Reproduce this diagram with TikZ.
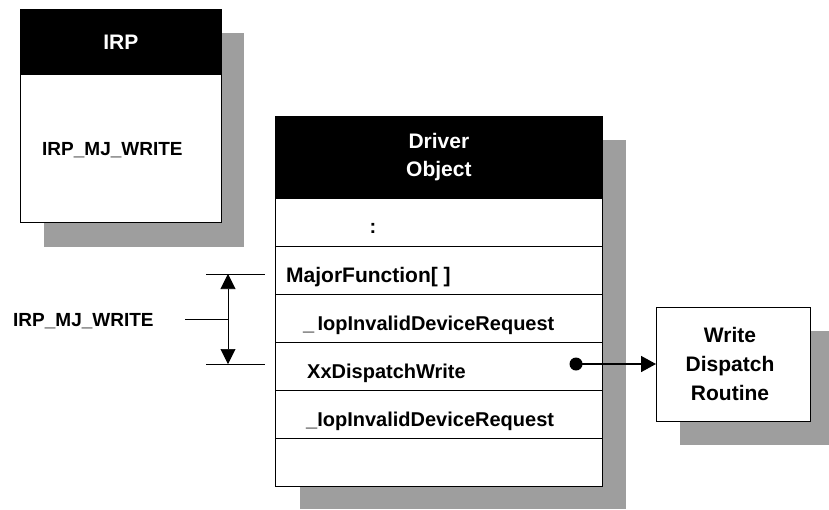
\documentclass[tikz,border=0pt]{standalone}
\usepackage{fontspec}
\setmainfont{Liberation Sans}
\usetikzlibrary{arrows.meta}
\begin{document}
\begin{tikzpicture}[x=1pt,y=-1pt,
  shadowfill/.style={fill=black!38},
  hdr/.style={draw=black,fill=black,text=white,line width=0.8pt,anchor=north west,align=center,
    font=\fontsize{21}{28}\selectfont\bfseries,inner sep=0pt},
  bodybox/.style={draw=black,fill=white,line width=0.8pt,anchor=north west,inner sep=0pt},
  rowbox/.style={draw=black,fill=white,line width=0.6pt,anchor=north west,inner sep=0pt,
    minimum width=327pt,minimum height=48pt},
  lbl/.style={font=\fontsize{20}{29}\selectfont\bfseries,inner sep=0pt,anchor=base west},
  ctr/.style={font=\fontsize{21}{29}\selectfont\bfseries,inner sep=0pt,align=center},
  thin/.style={line width=0.6pt}
]
\useasboundingbox (0,0) rectangle (829,509);
% shadows
\fill[shadowfill] (44,33) rectangle (244,247);
\fill[shadowfill] (300,140) rectangle (626,509);
\fill[shadowfill] (680,331) rectangle (829,445);
% IRP box
\node[hdr,minimum width=201pt,minimum height=65pt] (irph) at (20,9) {IRP};
\node[bodybox,minimum width=201pt,minimum height=148pt] (irpb) at (20,74) {};
\node[lbl,font=\fontsize{19}{29}\selectfont\bfseries] (irpt) at (42,155) {IRP\_MJ\_WRITE};
% Driver object
\node[hdr,minimum width=327pt,minimum height=82pt] (drvh) at (275,116) {Driver\\Object};
\node[rowbox] (r1) at (275,198) {};
\node[rowbox] (r2) at (275,246) {};
\node[rowbox] (r3) at (275,294) {};
\node[rowbox] (r4) at (275,342) {};
\node[rowbox] (r5) at (275,390) {};
\node[rowbox] (r6) at (275,438) {};
\node[lbl,anchor=base] (t1) at (373,233) {:};
\node[lbl,font=\fontsize{21}{29}\selectfont\bfseries] (t2) at (286,282) {MajorFunction[ ]};
\node[lbl] (t3) at (303,330) {\_\,IopInvalidDeviceRequest};
\node[lbl] (t4) at (307,378) {XxDispatchWrite};
\node[lbl] (t5) at (306,426) {\_IopInvalidDeviceRequest};
% Write dispatch routine
\node[bodybox,minimum width=154pt,minimum height=114pt] (wdr) at (656,307) {};
\node[ctr] (wdrt) at (730,364) {Write\\Dispatch\\Routine};
% dimension
\node[lbl,font=\fontsize{19}{29}\selectfont\bfseries] (lft) at (13,326) {IRP\_MJ\_WRITE};
\coordinate (ta1) at (206,274);
\coordinate (ta2) at (265,274);
\coordinate (tb1) at (206,364);
\coordinate (tb2) at (265,364);
\coordinate (va) at (228,274);
\coordinate (vb) at (228,364);
\coordinate (vm) at (228,319);
\coordinate (ml) at (185,319);
\draw[thin] (ta1) -- (ta2);
\draw[thin] (tb1) -- (tb2);
\draw[thin] (ml) -- (vm);
\draw[thin,{Triangle[width=15pt,length=15pt]}-{Triangle[width=15pt,length=15pt]}] (va) -- (vb);
% pointer arrow
\coordinate (dot) at (576,364);
\fill (dot) circle (6.5pt);
\draw[line width=1.6pt,-{Triangle[width=16pt,length=15pt]}] (dot) -- (wdr.west |- dot);
\end{tikzpicture}
\end{document}
